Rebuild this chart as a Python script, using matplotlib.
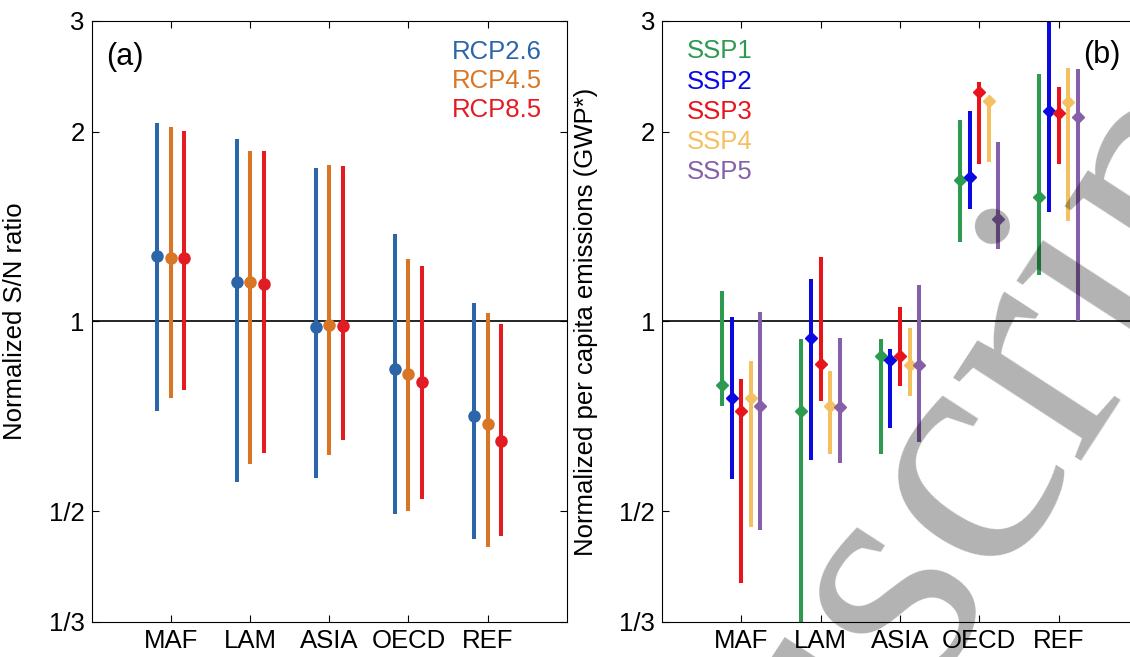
import numpy as np
import matplotlib
matplotlib.use('Agg')
import matplotlib.pyplot as plt
from matplotlib.ticker import FixedLocator, FixedFormatter, NullLocator

plt.rcParams['font.family'] = ['Liberation Sans', 'DejaVu Sans']

regions = ['MAF', 'LAM', 'ASIA', 'OECD', 'REF']
yticks = [1/3, 1/2, 1, 2, 3]
ytick_labels = ['1/3', '1/2', '1', '2', '3']

# panel (a): S/N ratio, per RCP (median, low, high)
rcp_names = ['RCP2.6', 'RCP4.5', 'RCP8.5']
rcp_colors = ['#2c65a8', '#d97625', '#e31b23']
rcp_mid = [[1.270, 1.155, 0.979, 0.841, 0.707],
           [1.259, 1.153, 0.988, 0.826, 0.688],
           [1.260, 1.145, 0.985, 0.801, 0.645]]
rcp_lo = [[0.722, 0.557, 0.564, 0.495, 0.452],
          [0.757, 0.593, 0.613, 0.500, 0.438],
          [0.779, 0.618, 0.649, 0.522, 0.456]]
rcp_hi = [[2.065, 1.948, 1.750, 1.378, 1.069],
          [2.033, 1.867, 1.774, 1.258, 1.031],
          [2.004, 1.861, 1.765, 1.224, 0.992]]

# panel (b): per capita emissions, per SSP
ssp_names = ['SSP1', 'SSP2', 'SSP3', 'SSP4', 'SSP5']
ssp_colors = ['#2e9a50', '#0a0ae0', '#e8141c', '#f5c060', '#8560a8']
ssp_mid = [[0.792, 0.722, 0.881, 1.675, 1.574],
           [0.757, 0.941, 0.868, 1.695, 2.156],
           [0.720, 0.857, 0.880, 2.311, 2.145],
           [0.755, 0.735, 0.854, 2.236, 2.230],
           [0.733, 0.731, 0.854, 1.452, 2.114]]
ssp_lo = [[0.733, 0.300, 0.615, 1.337, 1.183],
          [0.563, 0.603, 0.677, 1.510, 1.490],
          [0.385, 0.747, 0.791, 1.780, 1.776],
          [0.471, 0.616, 0.760, 1.791, 1.442],
          [0.467, 0.596, 0.643, 1.305, 1.000]]
ssp_hi = [[1.119, 0.939, 0.939, 2.086, 2.474],
          [1.017, 1.167, 0.905, 2.161, 3.200],
          [0.810, 1.265, 1.054, 2.403, 2.353],
          [0.864, 0.835, 0.975, 2.272, 2.526],
          [1.035, 0.941, 1.141, 1.925, 2.516]]

FS = 18.5

def style_axis(ax, ylabel):
    ax.set_yscale('log')
    ax.set_ylim(1/3, 3)
    ax.set_xlim(0, 6)
    ax.yaxis.set_major_locator(FixedLocator(yticks))
    ax.yaxis.set_major_formatter(FixedFormatter(ytick_labels))
    ax.yaxis.set_minor_locator(NullLocator())
    ax.set_xticks(range(1, 6))
    ax.set_xticklabels(regions)
    ax.tick_params(direction='in', length=5, width=0.8, top=True, right=True,
                   labelsize=FS, pad=5)
    for s in ax.spines.values():
        s.set_linewidth(0.8)
    ax.axhline(1, color='k', lw=1.2, zorder=1)
    ax.set_ylabel(ylabel, fontsize=FS)
    ax.yaxis.set_label_coords(-0.135, 0.5)


fig = plt.figure(figsize=(11.3, 6.57), dpi=100)
ax1 = fig.add_axes([0.0811, 0.0533, 0.4206, 0.915])
ax2 = fig.add_axes([0.5858, 0.0533, 0.4212, 0.915])

x = np.arange(1, 6)
for i, name in enumerate(rcp_names):
    xs = x + (i - 1) * 0.17
    ax1.vlines(xs, rcp_lo[i], rcp_hi[i], color=rcp_colors[i], lw=2.9, zorder=2)
    ax1.plot(xs, rcp_mid[i], 'o', color=rcp_colors[i], ms=8, zorder=3)
    ax1.text(0.947, 0.948 - i * 0.048, name, color=rcp_colors[i], fontsize=FS,
             ha='right', va='center', transform=ax1.transAxes)
style_axis(ax1, 'Normalized S/N ratio')
ax1.text(0.03, 0.965, '(a)', fontsize=22, ha='left', va='top', transform=ax1.transAxes)

for i, name in enumerate(ssp_names):
    xs = x + (i - 2) * 0.121
    ax2.vlines(xs, ssp_lo[i], ssp_hi[i], color=ssp_colors[i], lw=2.9, zorder=2)
    ax2.plot(xs, ssp_mid[i], 'D', color=ssp_colors[i], ms=6, zorder=3)
    ax2.text(0.052, 0.949 - i * 0.05, name, color=ssp_colors[i], fontsize=FS,
             ha='left', va='center', transform=ax2.transAxes)
style_axis(ax2, 'Normalized per capita emissions (GWP*)')
ax2.text(0.884, 0.968, '(b)', fontsize=22, ha='left', va='top', transform=ax2.transAxes)

# journal watermark
fig.text(0.442, -1.043, 'Manuscript', rotation=57, fontsize=240,
         family=['Liberation Serif', 'DejaVu Serif'], color='k', alpha=0.3,
         ha='left', va='baseline', rotation_mode='anchor', zorder=10)

fig.savefig('out.png', dpi=100)
